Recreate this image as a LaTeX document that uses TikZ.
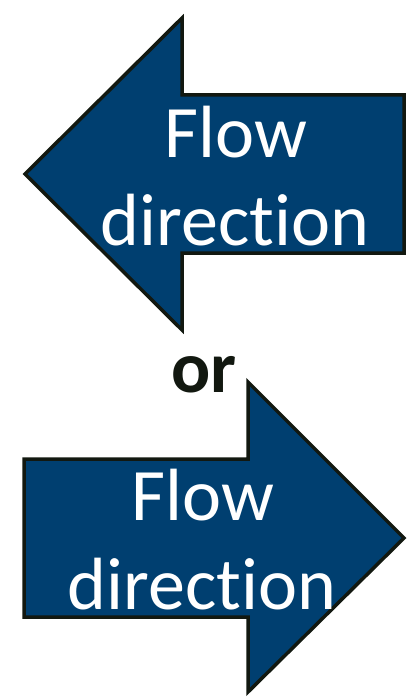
\documentclass[tikz,border=0pt]{standalone}
\usepackage{fontspec}
\setmainfont[Ligatures=NoCommon]{Carlito}
\definecolor{arrowblue}{RGB}{0,63,112}
\definecolor{outlinedark}{RGB}{18,24,16}
\begin{document}
\begin{tikzpicture}[x=1pt,y=-1pt,
  flowarrow/.style={fill=arrowblue,draw=outlinedark,line width=3.5pt,line join=miter},
  flowtext/.style={text=white,font=\fontsize{74}{88}\selectfont,anchor=base,inner sep=0pt},
  ortext/.style={text=outlinedark,font=\bfseries\fontsize{73}{88}\selectfont,anchor=base,inner sep=0pt}]
\useasboundingbox (0,0) rectangle (411,698);
% top arrow (points left)
\draw[flowarrow] (25,174) -- (182,18) -- (182,95) -- (404,95) -- (404,253) -- (182,253) -- (182,330) -- cycle;
% bottom arrow (points right)
\draw[flowarrow] (24,459) -- (248,459) -- (248,382) -- (404,538) -- (248,692) -- (248,617) -- (24,617) -- cycle;
\node[flowtext] (t1) at (236,157) {Flow};
\node[flowtext] (t2) at (235,245) {direction};
\node[ortext] (or) at (204,392) {or};
\node[flowtext] (b1) at (203,520) {Flow};
\node[flowtext] (b2) at (202,609) {direction};
\end{tikzpicture}
\end{document}
